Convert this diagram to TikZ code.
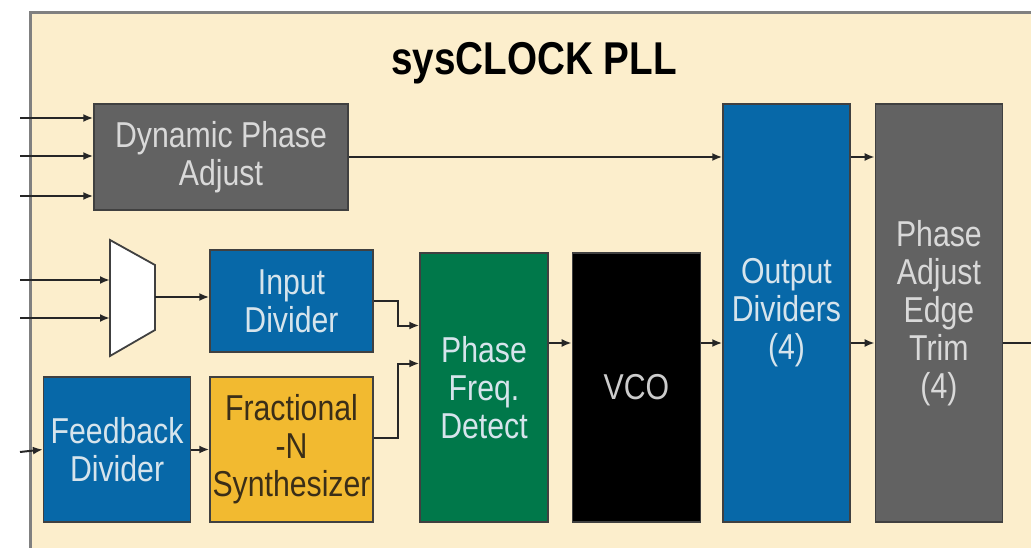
\documentclass[tikz,border=0pt]{standalone}
\usepackage{fontspec}
\setmainfont{Liberation Sans}[FakeStretch=0.84]
\usepackage{xcolor}
\usetikzlibrary{arrows.meta,positioning}

\definecolor{pllbeige}{HTML}{FCEECC}
\definecolor{pllblue}{HTML}{0768A8}
\definecolor{pllgreen}{HTML}{00784A}
\definecolor{pllyellow}{HTML}{F2BA30}
\definecolor{pllgray}{HTML}{626262}
\definecolor{lighttext}{HTML}{D6E4EC}
\definecolor{darktext}{HTML}{3A2E18}

\begin{document}
\begin{tikzpicture}[x=1pt,y=-1pt,
      block/.style={
         draw=black!75,
         line width=1.4pt,
         inner sep=0pt,
         align=center,
         text=lighttext,
         font=\fontsize{36}{38}\selectfont},
      blue_blk/.style={block, fill=pllblue},
      gray_blk/.style={block, fill=pllgray, text=black!15},
      green_blk/.style={block, fill=pllgreen},
      yellow_blk/.style={block, fill=pllyellow, text=darktext},
      vco_blk/.style={block, fill=black, text=black!20},
      arrow_black/.style={
        -{Latex[length=10pt,width=8pt]},
        line width=2pt,
        draw=black!85,
        }
]
      \useasboundingbox (0,0) rectangle (1031,548);
      % frame
      \draw[fill=pllbeige, draw=black!50, line width=3pt] (30,13) rectangle (1045,552);
      \node[font=\bfseries\fontsize{46}{48}\selectfont] (title) at (534,63) {sysCLOCK PLL};

      % top row
      \node[gray_blk, minimum width=254pt, minimum height=106pt] (dpa) at (221,157) {Dynamic Phase\\Adjust};
      \node[blue_blk, minimum width=127pt, minimum height=418pt] (od) at (786.5,313) {Output\\Dividers\\(4)};
      \node[gray_blk, minimum width=127pt, minimum height=418pt, right=24pt of od] (pat) {Phase\\Adjust\\Edge\\Trim\\(4)};

      % loop
      \node[blue_blk, minimum width=163pt, minimum height=102pt] (indiv) at (291.5,301) {Input\\Divider};
      \node[yellow_blk, minimum width=163pt, minimum height=145pt] (frac) at (291.5,449.5) {Fractional\\-N\\Synthesizer};
      \node[blue_blk, minimum width=147pt, minimum height=145pt, left=18pt of frac] (fbdiv) {Feedback\\Divider};
      \node[green_blk, minimum width=128pt, minimum height=269pt] (pfd) at (484,387.5) {Phase\\Freq.\\Detect};
      \node[vco_blk, minimum width=128pt, minimum height=269pt, right=23pt of pfd] (vco) {VCO};

      % input mux
      \draw[fill=white, draw=black!75, line width=1.8pt] (110,240) -- (155,265) -- (155,330) -- (110,356) -- cycle;
      \coordinate (mux_in1) at (110,280);
      \coordinate (mux_in2) at (110,318);
      \coordinate (mux_out) at (155,297);

      % signal row and free ends
      \coordinate (row) at (0,343);
      \coordinate (pll_out) at (1031,343);
      \foreach \n/\y in {1/118,2/156,3/196}
        \coordinate (dpa_in\n) at (20,\y);
      \coordinate (mux_src1) at (20,280);
      \coordinate (mux_src2) at (20,318);
      \coordinate (fb_in) at (20,452);

    \foreach \i/\j in {% start/end
      dpa_in1/dpa_in1 -| dpa.west,
      dpa_in2/dpa_in2 -| dpa.west,
      dpa_in3/dpa_in3 -| dpa.west,
      mux_src1/mux_in1,
      mux_src2/mux_in2,
      mux_out/mux_out -| indiv.west,
      fb_in/fbdiv.west,
      fbdiv.east/frac.west,
      dpa.east/dpa.east -| od.west,
      dpa.east -| od.east/dpa.east -| pat.west,
      pfd.east |- row/vco.west |- row,
      vco.east |- row/od.west |- row,
      od.east |- row/pat.west |- row}
    \draw [arrow_black] (\i) -- (\j);

    \draw [arrow_black] (indiv.east) -- ++(24,0) |- ([yshift=62pt]pfd.west);
    \draw [arrow_black] ([yshift=12pt]frac.east) -- ++(24,0) |- ([yshift=24pt]pfd.west);
    \draw [line width=2pt, draw=black!85] (pat.east |- row) -- (pll_out);

\end{tikzpicture}
\end{document}
